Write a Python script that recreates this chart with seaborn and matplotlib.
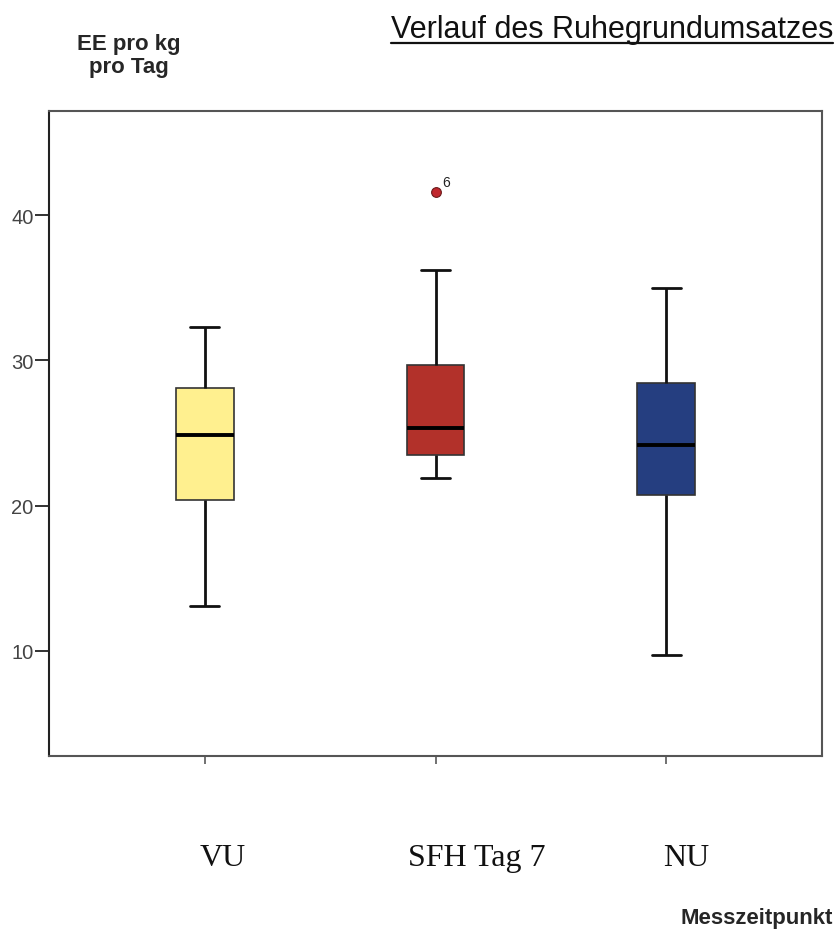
import matplotlib
matplotlib.use("Agg")
import matplotlib.pyplot as plt
import matplotlib.transforms as mtransforms
import seaborn as sns
import pandas as pd
from matplotlib.lines import Line2D

# ---- data ----
categories = ["VU", "SFH Tag 7", "NU"]
vu_values = [13.1, 17.0, 20.4, 22.5, 24.85, 26.5, 28.1, 30.0, 32.3]
sfh_values = [21.9, 22.8, 23.5, 24.5, 25.35, 27.5, 29.7, 36.2, 41.6]
nu_values = [9.7, 16.0, 20.7, 22.5, 24.15, 26.0, 28.45, 31.5, 34.95]
outlier_labels = {"SFH Tag 7": "6"}
yticks = [10, 20, 30, 40]
colors = ["#FFF08F", "#B2312A", "#253E80"]
label_shift_px = [18, 41, 20]

df = pd.DataFrame({
    "Messzeitpunkt": [categories[0]] * len(vu_values)
    + [categories[1]] * len(sfh_values)
    + [categories[2]] * len(nu_values),
    "EE": vu_values + sfh_values + nu_values,
})

sns.set_style("white")
plt.rcParams["font.family"] = ["Liberation Sans", "DejaVu Sans"]

fig = plt.figure(figsize=(8.37, 9.45), dpi=100)
ax = fig.add_axes([49 / 837, 1 - 757 / 945, 773 / 837, 645 / 945])

sns.boxplot(
    data=df, x="Messzeitpunkt", y="EE", hue="Messzeitpunkt",
    order=categories, hue_order=categories, saturation=1,
    palette=colors, width=0.25, legend=False, ax=ax, whis=1.5,
    boxprops=dict(edgecolor="#333333", linewidth=1.2),
    whiskerprops=dict(color="#111111", linewidth=2),
    capprops=dict(color="#111111", linewidth=2),
    medianprops=dict(color="#000000", linewidth=2.8),
    flierprops=dict(marker="o", markersize=7, markerfacecolor="#C1272D",
                    markeredgecolor="#6a1a1a", markeredgewidth=0.8),
)

# outlier case number label
for i, cat in enumerate(categories):
    if cat in outlier_labels:
        vals = df.loc[df["Messzeitpunkt"] == cat, "EE"]
        ax.annotate(outlier_labels[cat], xy=(i, vals.max()), xytext=(5, 4.5),
                    textcoords="offset points", fontsize=10, color="#222222")

ax.set_xlim(-0.675, 2.675)
ax.set_ylim(2.77, 47.16)
ax.set_yticks(yticks)
ax.set_yticklabels([str(v) for v in yticks], fontsize=14.5, color="#444444")
ax.tick_params(axis="y", which="major", left=True, length=10, width=1.3,
               color="#222222", pad=1)
ax.tick_params(axis="x", which="major", bottom=True, length=6, width=1.3,
               color="#666666", pad=57)
for lab, shift in zip(ax.get_xticklabels(), label_shift_px):
    lab.set_fontfamily(["Liberation Serif", "DejaVu Serif"])
    lab.set_fontsize(23)
    lab.set_color("#111111")
    lab.set_transform(lab.get_transform()
                      + mtransforms.ScaledTranslation(shift / 100, 0, fig.dpi_scale_trans))

for side in ["left"]:
    ax.spines[side].set_color("#222222")
    ax.spines[side].set_linewidth(1.5)
for side in ["top", "right", "bottom"]:
    ax.spines[side].set_color("#555555")
    ax.spines[side].set_linewidth(1.5)

ax.set_ylabel("EE pro kg\npro Tag", rotation=0, fontsize=16, fontweight="bold",
              ha="center", va="center", linespacing=1.15)
ax.yaxis.set_label_coords((129 - 49) / 773, (757 - 56) / 645)
ax.set_xlabel("Messzeitpunkt", fontsize=16, fontweight="bold", ha="right", va="center")
ax.xaxis.set_label_coords((833 - 49) / 773, (757 - 919) / 645)

title = fig.text(833 / 837, 1 - 38 / 945, "Verlauf des Ruhegrundumsatzes",
                 fontsize=22, ha="right", va="baseline", color="#111111")

# underline the title
fig.canvas.draw()
bb = title.get_window_extent().transformed(fig.transFigure.inverted())
yl = 1 - 44 / 945
fig.add_artist(Line2D([bb.x0, bb.x1], [yl, yl],
                      transform=fig.transFigure, color="#111111", linewidth=1.6))

fig.savefig("out.png", dpi=100)
